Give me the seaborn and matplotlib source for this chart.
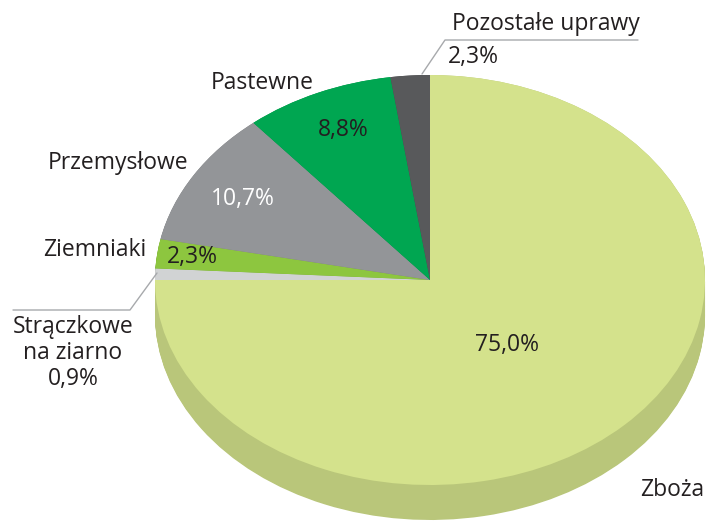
import numpy as np
import matplotlib
matplotlib.use("Agg")
import matplotlib.pyplot as plt
import seaborn as sns

categories = ["Zboża", "Strączkowe\nna ziarno", "Ziemniaki", "Przemysłowe", "Pastewne", "Pozostałe uprawy"]
shares = [75.0, 0.9, 2.3, 10.7, 8.8, 2.3]
value_labels = ["75,0%", "0,9%", "2,3%", "10,7%", "8,8%", "2,3%"]

top_colors = ["#D4E28C", "#D1D3D4", "#8DC63F", "#939598", "#00A651", "#58595B"]
side_colors = ["#B9C67A", "#B5B7B8", "#76A833", "#7C7E80", "#008C44", "#47484A"]

sns.set_style("white")
plt.rcParams["font.family"] = ["Open Sans", "DejaVu Sans"]

fig = plt.figure(figsize=(7.07, 5.22), dpi=100)
ax = fig.add_axes([0, 0, 1, 1])

# pie centre and radii in pixels (image coords, y from top)
CX, CY, RX, RY, DEPTH = 430, 280, 275, 205, 35


def px(x, y):
    return (x - CX) / RX, (CY - y) / RY


# side of the "3D" pie: stacked darker copies
for d in np.linspace(DEPTH / RY, 0, 40):
    ax.pie(shares, colors=side_colors, startangle=90, counterclock=False,
           center=(0, -d), wedgeprops=dict(linewidth=0))

ax.pie(shares, colors=top_colors, startangle=90, counterclock=False,
       wedgeprops=dict(linewidth=0))

ax.set_aspect("auto")
ax.set_xlim(-CX / RX, (707 - CX) / RX)
ax.set_ylim(-(522 - CY) / RY, CY / RY)
ax.axis("off")

fs = 16.5
txt = "#231F20"
line_c = "#A7A9AC"

# Zboża
ax.text(*px(507, 345), value_labels[0], fontsize=fs, color=txt, ha="center", va="center")
ax.text(*px(672, 490), categories[0], fontsize=fs, color=txt, ha="center", va="center")

# Strączkowe
ax.plot(*zip(px(157, 273), px(130, 310), px(13, 310)), color=line_c, lw=1)
ax.text(*px(73, 353), categories[1] + "\n" + value_labels[1], fontsize=fs, color=txt,
        ha="center", va="center", multialignment="center", linespacing=1.1)

# Ziemniaki
ax.text(*px(146, 250), categories[2], fontsize=fs, color=txt, ha="right", va="center")
ax.text(*px(192, 257), value_labels[2], fontsize=fs, color=txt, ha="center", va="center")

# Przemysłowe
ax.text(*px(118, 163), categories[3], fontsize=fs, color=txt, ha="center", va="center")
ax.text(*px(243, 199), value_labels[3], fontsize=fs, color="white", ha="center", va="center")

# Pastewne
ax.text(*px(262, 83), categories[4], fontsize=fs, color=txt, ha="center", va="center")
ax.text(*px(343, 130), value_labels[4], fontsize=fs, color=txt, ha="center", va="center")

# Pozostałe uprawy
ax.plot(*zip(px(422, 74), px(445, 40), px(638, 40)), color=line_c, lw=1)
ax.text(*px(452, 24), categories[5], fontsize=fs, color=txt, ha="left", va="center")
ax.text(*px(448, 57), value_labels[5], fontsize=fs, color=txt, ha="left", va="center")

fig.savefig("out.png", dpi=100, facecolor="white")
